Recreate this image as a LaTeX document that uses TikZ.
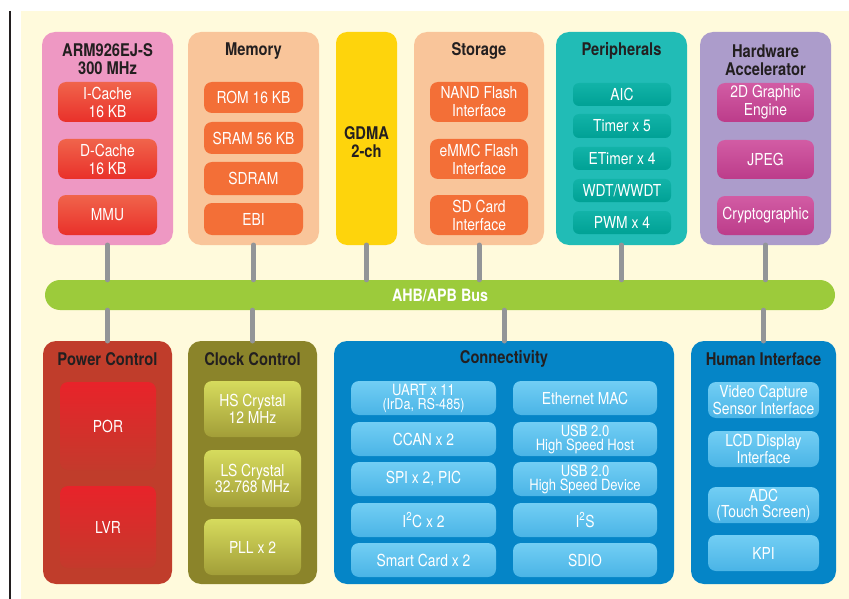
\documentclass[tikz,border=0pt]{standalone}
\usepackage{fontspec}
\setmainfont{TeX Gyre Heros}[FakeStretch=0.84]
\setsansfont{TeX Gyre Heros}[FakeStretch=0.84]
\definecolor{cream}{HTML}{FFFADC}
\definecolor{titlec}{HTML}{231F20}
\definecolor{armpink}{HTML}{EE98C3}
\definecolor{peach}{HTML}{F9C59A}
\definecolor{orangein}{HTML}{F36F37}
\definecolor{gdmay}{HTML}{FED40C}
\definecolor{tealout}{HTML}{21BCB6}
\definecolor{tealtop}{HTML}{12B3A8}
\definecolor{tealbot}{HTML}{00A195}
\definecolor{lavender}{HTML}{AC9CCB}
\definecolor{magtop}{HTML}{D25CA4}
\definecolor{magbot}{HTML}{BC3C8A}
\definecolor{busgreen}{HTML}{9CCB3B}
\definecolor{conngrey}{HTML}{939598}
\definecolor{powout}{HTML}{C03D2B}
\definecolor{powtop}{HTML}{E8232A}
\definecolor{powbot}{HTML}{C43A2C}
\definecolor{clkout}{HTML}{8B842A}
\definecolor{clktop}{HTML}{D6DB5D}
\definecolor{clkbot}{HTML}{A29E38}
\definecolor{blueout}{HTML}{0585C7}
\definecolor{bluetop}{HTML}{72CEF4}
\definecolor{bluebot}{HTML}{4AB4E6}
\definecolor{armtop}{HTML}{F0644B}
\definecolor{armbot}{HTML}{E9302A}
\newcommand\bx[7][]{%
  \node[#1, minimum width={(#5-#3)*1pt}, minimum height={(#6-#4)*1pt}] (#2) at ({(#3+#5)/2},{(#4+#6)/2}) {#7};}
\tikzset{
  outer/.style={rounded corners=13pt, inner sep=0pt, outer sep=0pt},
  inbox/.style={rounded corners=8pt, inner sep=0pt, outer sep=0pt, text=white, align=center,
    font=\fontsize{16.5}{18}\selectfont},
  ttl/.style={text=titlec, font=\fontsize{17.5}{18.5}\selectfont\bfseries, align=center, inner sep=0pt},
  conn/.style={draw=conngrey, line width=5pt, line cap=round},
  armin/.style={inbox, top color=armtop, bottom color=armbot},
  orin/.style={inbox, fill=orangein},
  tealin/.style={inbox, rounded corners=6pt, top color=tealtop, bottom color=tealbot},
  magin/.style={inbox, top color=magtop, bottom color=magbot},
  powin/.style={inbox, top color=powtop, bottom color=powbot},
  clkin/.style={inbox, top color=clktop, bottom color=clkbot},
  bluein/.style={inbox, top color=bluetop, bottom color=bluebot},
  tight/.style={font=\fontsize{15.5}{14}\selectfont},
  mid/.style={font=\fontsize{16.5}{16.5}\selectfont},
}
\begin{document}
\begin{tikzpicture}[x=1pt,y=-1pt]
\useasboundingbox (0,0) rectangle (849,599);
\fill[cream] (21,11) rectangle (849,599);
\draw[line width=2.5pt, titlec] (10,11) -- (10,599);

% ---- top row ----
\bx[outer, fill=armpink]{arm}{42}{32}{173}{245}{}
\node[ttl] (armt) at (107.5,59) {ARM926EJ-S\\300 MHz};
\bx[armin]{icache}{58}{82}{157}{122}{I-Cache\\16 KB}
\bx[armin]{dcache}{58}{139}{157}{179}{D-Cache\\16 KB}
\bx[armin]{mmu}{58}{195}{157}{235}{MMU}

\bx[outer, fill=peach]{mem}{188}{32}{319}{245}{}
\node[ttl] (memt) at (253.5,51) {Memory};
\bx[orin]{rom}{204}{82}{303}{113}{ROM 16 KB}
\bx[orin]{sram}{204}{122}{303}{154}{SRAM 56 KB}
\bx[orin]{sdram}{204}{162}{303}{195}{SDRAM}
\bx[orin]{ebi}{204}{203}{303}{235}{EBI}

\bx[outer, rounded corners=11pt, fill=gdmay]{gdma}{336}{32}{397}{245}{}
\node[ttl] (gdmat) at (366.5,142) {GDMA\\2-ch};

\bx[outer, fill=peach]{stor}{414}{32}{544}{245}{}
\node[ttl] (stort) at (479,51) {Storage};
\bx[orin]{nand}{430}{82}{528}{122}{NAND Flash\\Interface}
\bx[orin]{emmc}{430}{139}{528}{179}{eMMC Flash\\Interface}
\bx[orin]{sdcard}{430}{195}{528}{235}{SD Card\\Interface}

\bx[outer, fill=tealout]{peri}{556}{32}{687}{245}{}
\node[ttl] (perit) at (621.5,51) {Peripherals};
\bx[tealin]{aic}{573}{83}{671}{106}{AIC}
\bx[tealin]{timer}{573}{114}{671}{138}{Timer x 5}
\bx[tealin]{etimer}{573}{147}{671}{170}{ETimer x 4}
\bx[tealin]{wdt}{573}{179}{671}{202}{WDT/WWDT}
\bx[tealin]{pwm}{573}{211}{671}{234}{PWM x 4}

\bx[outer, fill=lavender]{hwa}{700}{32}{831}{245}{}
\node[ttl] (hwat) at (765.5,60) {Hardware\\Accelerator};
\bx[magin]{gfx}{717}{83}{814}{122}{2D Graphic\\Engine}
\bx[magin]{jpeg}{717}{140}{814}{179}{JPEG}
\bx[magin]{crypto}{717}{196}{814}{235}{Cryptographic}

% ---- bus ----
\bx[rounded corners=15pt, inner sep=0pt, fill=busgreen, text=white,
    font=\fontsize{17}{18}\selectfont\bfseries]{bus}{45}{280}{835}{310}{AHB/APB Bus}

% ---- bottom row ----
\bx[outer, fill=powout]{pow}{43}{341}{172}{584}{}
\node[ttl] (powt) at (107.5,359) {Power Control};
\bx[powin]{por}{60}{382}{156}{470}{POR}
\bx[powin]{lvr}{60}{486}{156}{568}{LVR}

\bx[outer, fill=clkout]{clk}{188}{341}{317}{584}{}
\node[ttl] (clkt) at (252.5,359) {Clock Control};
\bx[clkin, mid]{hs}{204}{381}{301}{437}{HS Crystal\\12 MHz}
\bx[clkin, mid]{ls}{204}{450}{301}{507}{LS Crystal\\32.768 MHz}
\bx[clkin]{pll}{204}{519}{301}{575}{PLL x 2}

\bx[outer, fill=blueout]{conn}{334}{341}{674}{584}{}
\node[ttl] (connt) at (504,359) {Connectivity};
\bx[bluein, tight]{uart}{351}{381}{496}{415}{UART x 11\\{\fontsize{15}{12}\selectfont (IrDa, RS-485)}}
\bx[bluein]{ccan}{351}{422}{496}{456}{CCAN x 2}
\bx[bluein]{spi}{351}{462}{496}{496}{SPI x 2, PIC}
\bx[bluein]{i2c}{351}{503}{496}{537}{I\textsuperscript{2}C x 2}
\bx[bluein]{smart}{351}{543}{496}{577}{Smart Card x 2}
\bx[bluein]{eth}{513}{381}{657}{415}{Ethernet MAC}
\bx[bluein, tight]{usbh}{513}{422}{657}{456}{USB 2.0\\High Speed Host}
\bx[bluein, tight]{usbd}{513}{462}{657}{496}{USB 2.0\\High Speed Device}
\bx[bluein]{i2s}{513}{503}{657}{537}{I\textsuperscript{2}S}
\bx[bluein]{sdio}{513}{543}{657}{577}{SDIO}

\bx[outer, fill=blueout]{hmi}{691}{341}{836}{584}{}
\node[ttl] (hmit) at (763.5,359) {Human Interface};
\bx[bluein, mid]{video}{708}{382}{819}{418}{Video Capture\\Sensor Interface}
\bx[bluein, mid]{lcd}{708}{431}{819}{467}{LCD Display\\Interface}
\bx[bluein, mid]{adc}{708}{487}{819}{523}{ADC\\(Touch Screen)}
\bx[bluein]{kpi}{708}{535}{819}{571}{KPI}

% ---- connectors ----
\foreach \n in {arm,mem,gdma,stor,peri,hwa}
  \draw[conn] (\n.south) -- (\n.south |- bus.north);
\foreach \n in {pow,clk,conn,hmi}
  \draw[conn] (\n.north) -- (\n.north |- bus.south);
\end{tikzpicture}
\end{document}
